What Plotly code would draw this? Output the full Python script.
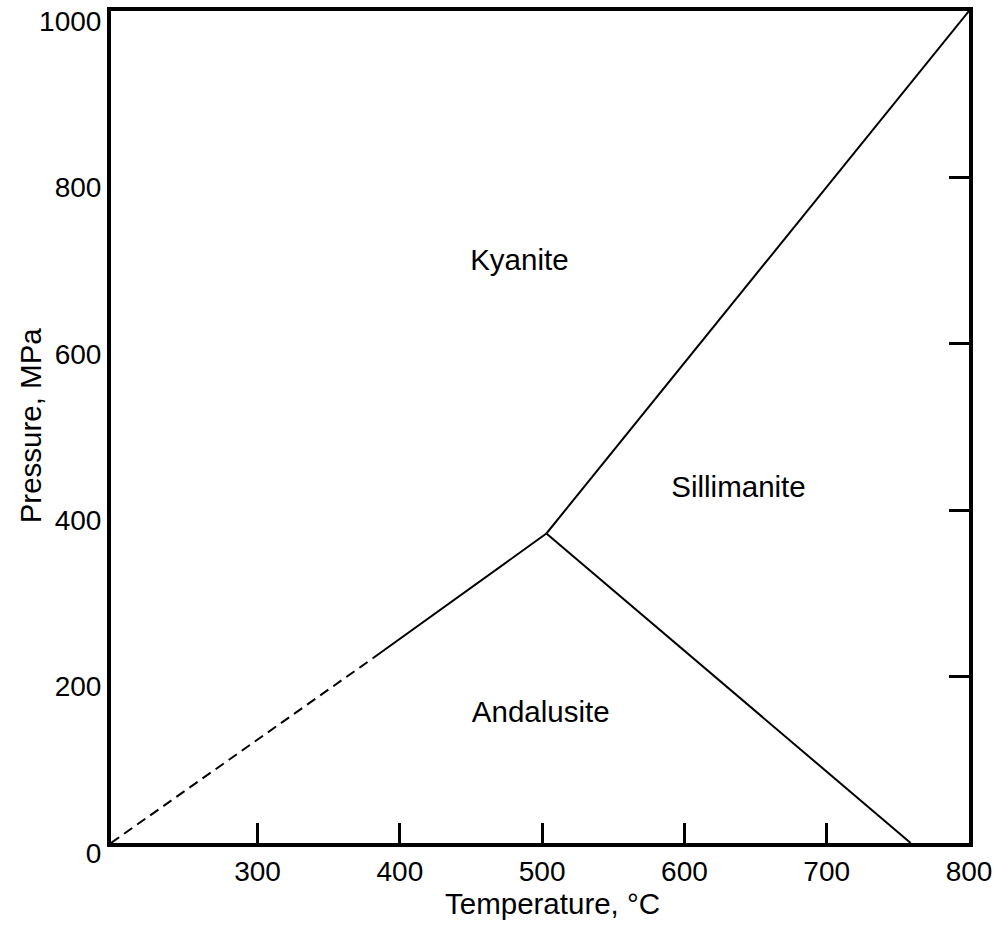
import plotly.graph_objects as go

# Phase boundaries (Temperature °C, Pressure MPa)
and_ky_dashed_T = [197, 381]
and_ky_dashed_P = [0, 222]
and_ky_T = [381, 503]
and_ky_P = [222, 372]
ky_sil_T = [503, 800]
ky_sil_P = [372, 1000]
and_sil_T = [503, 759]
and_sil_P = [372, 0]

phase_names = ["Kyanite", "Sillimanite", "Andalusite"]
phase_T = [484, 638, 499]
phase_P = [698, 425, 154]

x_ticks = [300, 400, 500, 600, 700, 800]
y_ticks = [0, 200, 400, 600, 800, 1000]
y_right_ticks = [200, 400, 600, 800]

FONT = "Liberation Sans, Arial, sans-serif"
line_style = dict(color="black", width=2)

fig = go.Figure()
fig.add_trace(go.Scatter(x=and_ky_dashed_T, y=and_ky_dashed_P, mode="lines",
                         line=dict(color="black", width=2, dash="10px,6px"), hoverinfo="skip"))
fig.add_trace(go.Scatter(x=and_ky_T, y=and_ky_P, mode="lines", line=line_style))
fig.add_trace(go.Scatter(x=ky_sil_T, y=ky_sil_P, mode="lines", line=line_style))
fig.add_trace(go.Scatter(x=and_sil_T, y=and_sil_P, mode="lines", line=line_style))
fig.add_trace(go.Scatter(x=phase_T, y=phase_P, mode="text", text=phase_names,
                         textfont=dict(family=FONT, size=29.5, color="black")))
# invisible trace to activate the right-hand tick axis
fig.add_trace(go.Scatter(x=[None], y=[None], yaxis="y2", showlegend=False))

fig.update_layout(
    width=994, height=925,
    margin=dict(l=111, r=25, t=11, b=82),
    paper_bgcolor="white", plot_bgcolor="white",
    showlegend=False,
    font=dict(family=FONT, size=28, color="black"),
    xaxis=dict(range=[197, 800], tickvals=x_ticks, ticks="inside", ticklen=20, tickwidth=3,
               tickcolor="black", showline=True, linewidth=4, linecolor="black", mirror=True,
               showgrid=False, zeroline=False, automargin=False, ticklabeloverflow="allow",
               tickfont=dict(size=28)),
    yaxis=dict(range=[0, 1000], tickvals=y_ticks, ticks="", showline=True, linewidth=4,
               linecolor="black", mirror=True, showgrid=False, zeroline=False,
               ticklabelshift=10, automargin=False, ticklabeloverflow="allow",
               tickfont=dict(size=28)),
    yaxis2=dict(range=[0, 1000], overlaying="y", side="right", tickvals=y_right_ticks,
                ticks="inside", ticklen=20, tickwidth=3, tickcolor="black", automargin=False,
                showticklabels=False, showline=False, showgrid=False, zeroline=False),
    annotations=[
        dict(text="Temperature, °C", xref="paper", yref="paper", x=0.515, y=-0.0733,
             xanchor="center", yanchor="middle", showarrow=False,
             font=dict(family=FONT, size=29.5, color="black")),
        dict(text="Pressure, MPa", xref="paper", yref="paper", x=-0.0944, y=0.502,
             xanchor="center", yanchor="middle", textangle=-90, showarrow=False,
             font=dict(family=FONT, size=29.5, color="black")),
    ],
)

fig.write_html(
    "out.html",
    config={"displayModeBar": False},
    post_script="document.body.style.margin='0';document.body.style.overflow='hidden';",
)
